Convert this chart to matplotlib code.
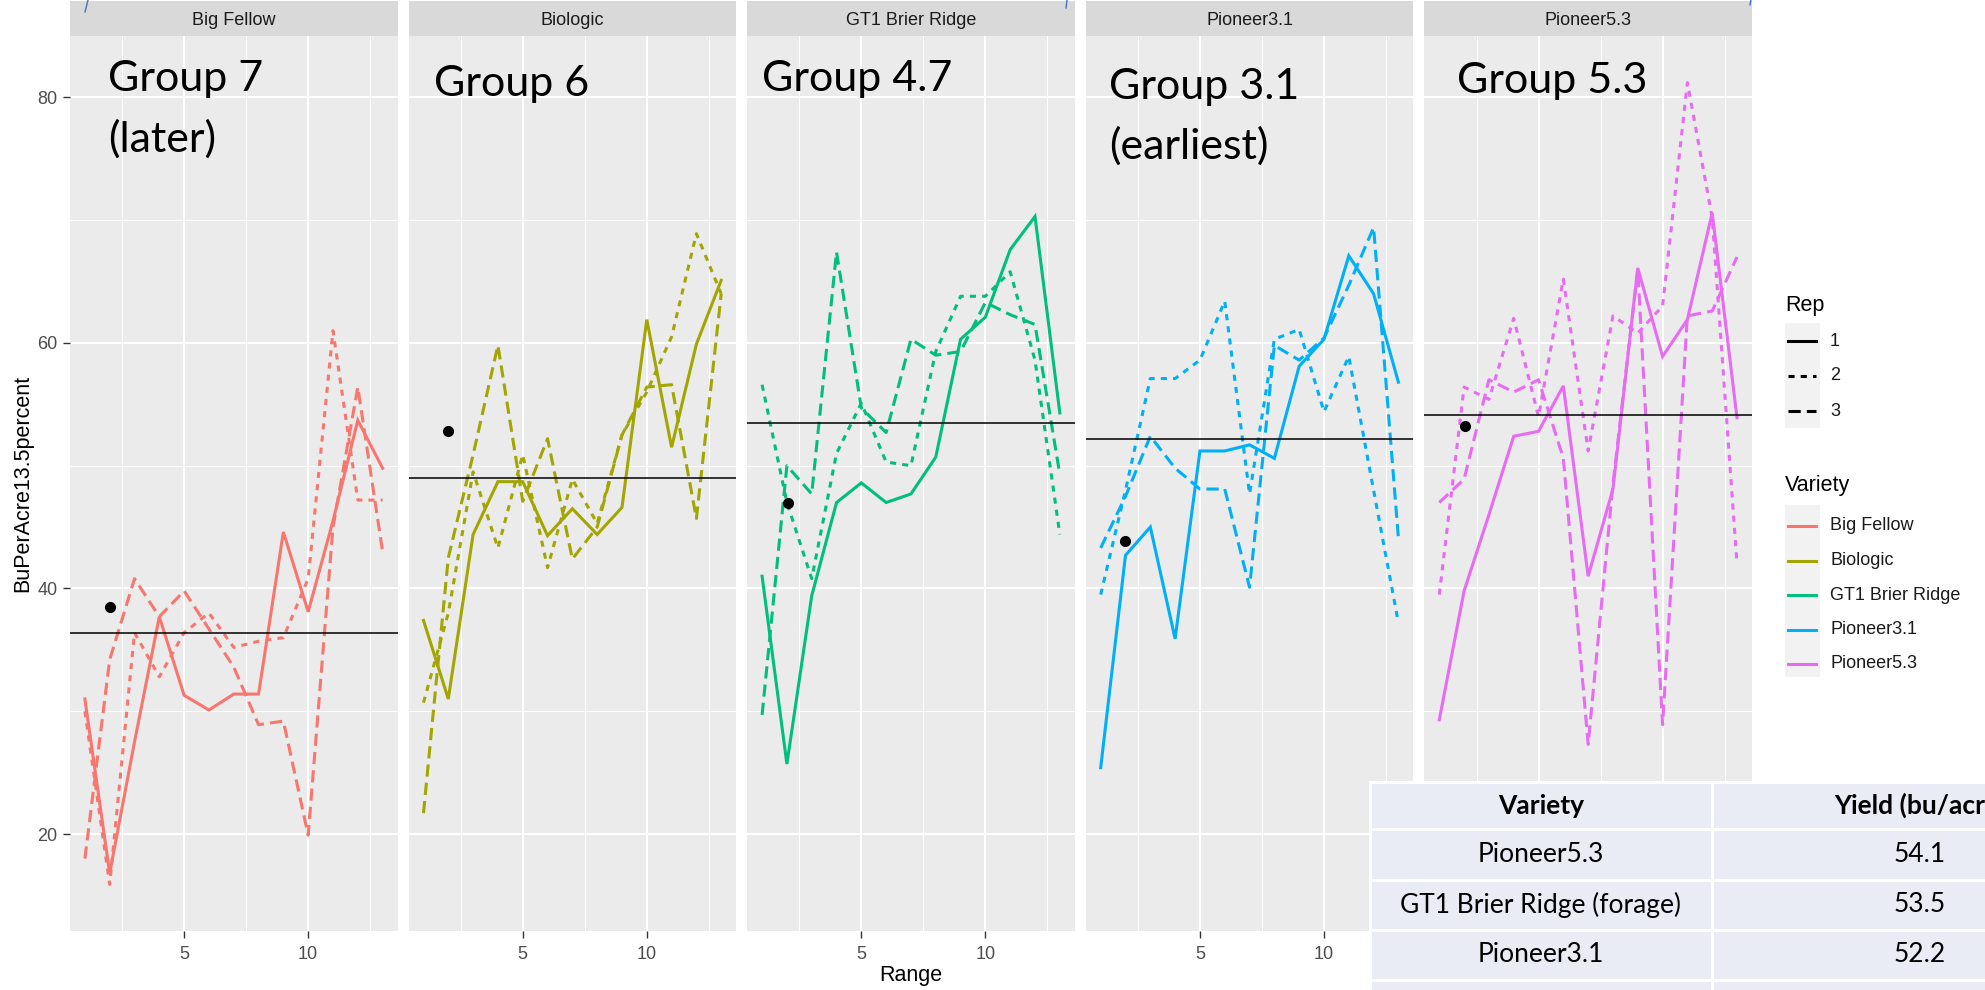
import matplotlib
matplotlib.use("Agg")
import matplotlib.pyplot as plt
from matplotlib.patches import Rectangle
from matplotlib.lines import Line2D

# ---------------- data ----------------
ranges = list(range(1, 14))
varieties = ["Big Fellow", "Biologic", "GT1 Brier Ridge", "Pioneer3.1", "Pioneer5.3"]
reps = ["1", "2", "3"]

big_fellow_rep1 = [31.0, 16.8, 27.5, 37.7, 31.3, 30.1, 31.4, 31.4, 44.6, 38.1, 45.5, 53.7, 49.8]
big_fellow_rep2 = [30.0, 15.9, 36.4, 32.8, 36.4, 38.0, 35.2, 35.7, 36.0, 40.8, 61.0, 47.2, 47.2]
big_fellow_rep3 = [18.0, 34.2, 40.8, 37.7, 39.8, 36.7, 33.6, 28.9, 29.2, 19.9, 45.0, 56.4, 43.0]

biologic_rep1 = [37.4, 31.0, 44.4, 48.7, 48.7, 44.3, 46.5, 44.4, 46.6, 61.9, 51.5, 59.9, 65.1]
biologic_rep2 = [30.7, 38.0, 49.5, 43.3, 50.9, 41.7, 48.9, 45.3, 52.5, 56.0, 60.5, 68.9, 64.0]
biologic_rep3 = [21.7, 42.5, 50.9, 59.8, 47.1, 52.2, 42.4, 45.0, 52.5, 56.4, 56.6, 45.7, 64.0]

gt1_rep1 = [41.0, 25.7, 39.4, 47.0, 48.6, 47.0, 47.7, 50.7, 60.3, 62.1, 67.6, 70.3, 54.3]
gt1_rep2 = [56.6, 47.0, 40.8, 51.0, 55.1, 50.3, 50.0, 59.3, 63.8, 63.8, 65.8, 58.6, 44.4]
gt1_rep3 = [29.7, 50.0, 47.7, 67.4, 54.7, 52.7, 60.3, 59.0, 59.3, 63.3, 62.3, 61.5, 49.3]

p31_rep1 = [25.4, 42.7, 45.0, 35.9, 51.2, 51.2, 51.7, 50.6, 58.1, 60.3, 67.1, 64.0, 56.8]
p31_rep2 = [39.5, 48.0, 57.1, 57.1, 58.6, 63.4, 47.7, 60.3, 61.1, 54.4, 58.9, 48.0, 37.2]
p31_rep3 = [43.3, 47.5, 52.4, 49.8, 48.1, 48.1, 40.1, 59.8, 58.6, 60.4, 64.7, 69.4, 44.1]

p53_rep1 = [29.3, 39.8, 46.0, 52.4, 52.8, 56.5, 41.0, 48.1, 66.1, 58.9, 61.9, 70.6, 53.9]
p53_rep2 = [39.5, 56.4, 55.4, 62.0, 54.0, 65.2, 51.2, 62.2, 60.8, 63.0, 81.2, 70.2, 42.0]
p53_rep3 = [47.0, 48.9, 57.0, 56.0, 57.0, 50.6, 27.3, 48.5, 66.0, 28.9, 62.2, 62.6, 67.0]

yields = [
    [big_fellow_rep1, big_fellow_rep2, big_fellow_rep3],
    [biologic_rep1, biologic_rep2, biologic_rep3],
    [gt1_rep1, gt1_rep2, gt1_rep3],
    [p31_rep1, p31_rep2, p31_rep3],
    [p53_rep1, p53_rep2, p53_rep3],
]

variety_means = [36.4, 49.0, 53.5, 52.2, 54.1]
check_range = [2, 2, 2.05, 2, 2.05]
check_yield = [38.5, 52.8, 47.0, 43.9, 53.2]

group_line1 = ["Group 7", "Group 6", "Group 4.7", "Group 3.1", "Group 5.3"]
group_line2 = ["(later)", "", "", "(earliest)", ""]

table_header = ["Variety", "Yield (bu/acre)"]
table_varieties = ["Pioneer5.3", "GT1 Brier Ridge (forage)", "Pioneer3.1"]
table_yields = ["54.1", "53.5", "52.2"]

# ---------------- style ----------------
colors = ["#F8766D", "#A3A500", "#00BF7D", "#00B0F6", "#E76BF3"]
linestyles = ["-", (0, (2, 2)), (0, (4, 2))]
GG = "Liberation Sans"
SLIDE = "Lato"

W, H = 1985, 990
fig = plt.figure(figsize=(W / 100, H / 100), dpi=100)
fig.patch.set_facecolor("white")


def fx(x):
    return x / W


def fy(y):
    return 1 - y / H


panel_left0 = 70.0
panel_w = 327.5
gap = 11.1
top, bottom, strip_top = 36, 931, 1

for i, v in enumerate(varieties):
    left = panel_left0 + i * (panel_w + gap)
    ax = fig.add_axes([fx(left), fy(bottom), panel_w / W, (bottom - top) / H])
    ax.set_facecolor("#EBEBEB")
    ax.set_xlim(0.4, 13.6)
    ax.set_ylim(12.1, 85.0)
    ax.set_xticks([5, 10])
    ax.set_xticks([2.5, 7.5, 12.5], minor=True)
    ax.set_yticks([20, 40, 60, 80])
    ax.set_yticks([30, 50, 70], minor=True)
    ax.grid(which="major", color="white", lw=1.5)
    ax.grid(which="minor", color="white", lw=0.75)
    ax.set_axisbelow(True)
    for s in ax.spines.values():
        s.set_visible(False)
    ax.tick_params(which="minor", length=0)
    ax.tick_params(which="major", length=5, width=1.0, color="#333333",
                   labelsize=13, labelcolor="#4D4D4D", pad=4)
    ax.tick_params(axis="x", which="major", pad=6)
    for lab in ax.get_xticklabels() + ax.get_yticklabels():
        lab.set_family(GG)
    if i > 0:
        ax.tick_params(axis="y", which="major", left=False, labelleft=False)
    if i == 4:
        # this panel's axis sits under the table in the reference
        ax.tick_params(axis="x", which="major", labelbottom=False)
    for r in range(3):
        ax.plot(ranges, yields[i][r], color=colors[i], lw=2.2,
                linestyle=linestyles[r], dash_capstyle="butt",
                solid_joinstyle="miter", zorder=3)
    ax.axhline(variety_means[i], color="black", lw=1.1, zorder=4)
    ax.plot([check_range[i]], [check_yield[i]], "o", color="black", ms=7, zorder=5)

    sax = fig.add_axes([fx(left), fy(top), panel_w / W, (top - strip_top) / H])
    sax.set_facecolor("#D9D9D9")
    sax.set_xticks([])
    sax.set_yticks([])
    for s in sax.spines.values():
        s.set_visible(False)
    sax.text(0.5, 0.45, v, ha="center", va="center", fontsize=13,
             color="#1A1A1A", family=GG, transform=sax.transAxes)

# axis titles
fig.text(fx(911), fy(976), "Range", ha="center", va="center", fontsize=15.5,
         family=GG, color="black")
fig.text(fx(23), fy(483), "BuPerAcre13.5percent", ha="center", va="center",
         rotation=90, fontsize=15.5, family=GG, color="black")

# overlay in pixel coordinates
ov = fig.add_axes([0, 0, 1, 1])
ov.set_xlim(0, W)
ov.set_ylim(H, 0)
ov.axis("off")
ov.patch.set_visible(False)
ov.set_zorder(10)

# group annotations
g_x = [108, 434, 762, 1109, 1457]
g_y1 = [91.5, 96, 91.5, 99, 93]
for i in range(5):
    ov.text(g_x[i], g_y1[i], group_line1[i], ha="left", va="baseline",
            fontsize=31, family=SLIDE, color="black")
    if group_line2[i]:
        ov.text(g_x[i], g_y1[i] + 60, group_line2[i], ha="left", va="baseline",
                fontsize=31, family=SLIDE, color="black")

# legend: Rep
ov.text(1785, 305, "Rep", ha="left", va="center", fontsize=15.5, family=GG, color="black")
ov.add_patch(Rectangle((1785, 323), 35, 105, facecolor="#F2F2F2", edgecolor="none"))
rep_y = [341, 376, 411]
for r in range(3):
    ov.add_line(Line2D([1788, 1816], [rep_y[r], rep_y[r]], color="black", lw=2.2,
                       linestyle=linestyles[r], dash_capstyle="butt"))
    ov.text(1830, rep_y[r], reps[r], ha="left", va="center", fontsize=13, family=GG, color="#1A1A1A")

# legend: Variety
ov.text(1785, 486, "Variety", ha="left", va="center", fontsize=15.5, family=GG, color="black")
ov.add_patch(Rectangle((1785, 505), 35, 172, facecolor="#F2F2F2", edgecolor="none"))
for i, v in enumerate(varieties):
    yy = 526 + i * 34.5
    ov.add_line(Line2D([1788, 1816], [yy, yy], color=colors[i], lw=2.2))
    ov.text(1830, yy, v, ha="left", va="center", fontsize=13, family=GG, color="#1A1A1A")

# table
row_edges = [782, 829, 880, 930, 980, 1030]
col_edges = [1370, 1712, 2130]
for r in range(len(row_edges) - 1):
    for c in range(2):
        ov.add_patch(Rectangle((col_edges[c], row_edges[r]),
                               col_edges[c + 1] - col_edges[c],
                               row_edges[r + 1] - row_edges[r],
                               facecolor="#E9EBF5", edgecolor="white", lw=2.2))
col_centers = [1541, 1920]
hy = (row_edges[0] + row_edges[1]) / 2
for c in range(2):
    ov.text(col_centers[c], hy, table_header[c], ha="center", va="center",
            fontsize=19, fontweight="bold", family=SLIDE, color="black")
for r in range(3):
    yy = (row_edges[r + 1] + row_edges[r + 2]) / 2
    ov.text(col_centers[0], yy, table_varieties[r], ha="center", va="center",
            fontsize=19, family=SLIDE, color="black")
    ov.text(col_centers[1], yy, table_yields[r], ha="center", va="center",
            fontsize=19, family=SLIDE, color="black")

# small selection marks from the slide
ov.add_line(Line2D([85, 88], [12, 0], color="#4472C4", lw=1.0))
ov.add_line(Line2D([1066, 1067], [8, 0], color="#4472C4", lw=1.0))
ov.add_line(Line2D([1750, 1751], [5, 0], color="#4472C4", lw=1.0))

fig.savefig("out.png", dpi=100)
